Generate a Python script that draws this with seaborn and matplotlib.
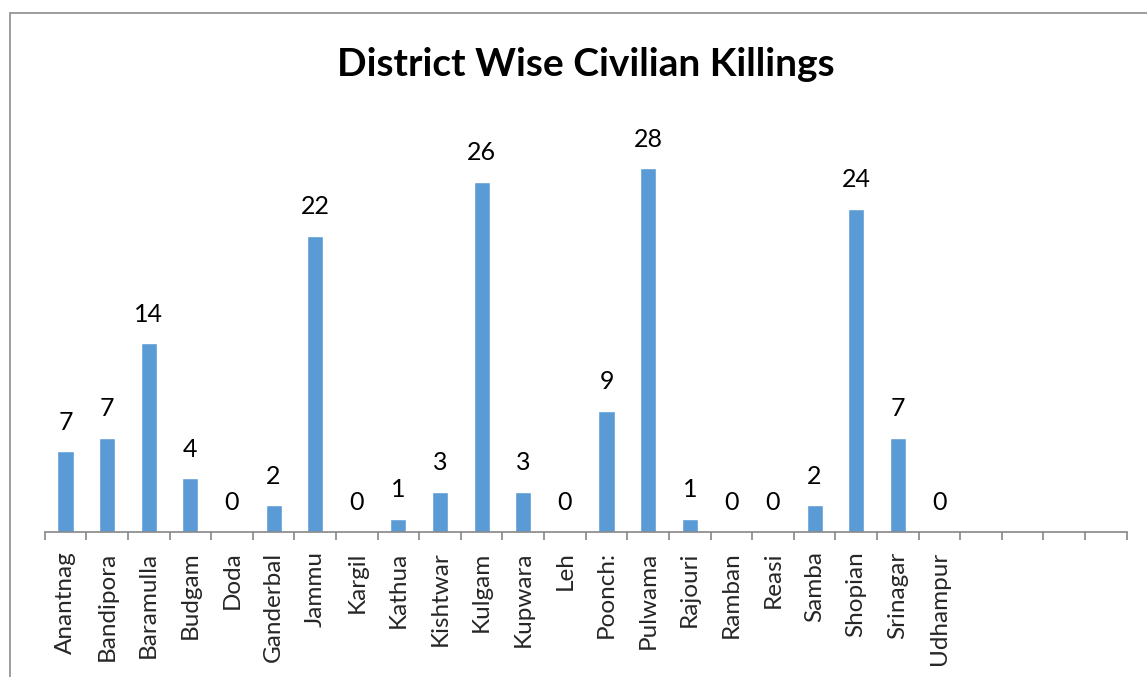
from matplotlib import pyplot as plt
from matplotlib.patches import Rectangle
import pandas as pd
import seaborn as sns

districts = ['Anantnag', 'Bandipora', 'Baramulla', 'Budgam', 'Doda', 'Ganderbal',
             'Jammu', 'Kargil', 'Kathua', 'Kishtwar', 'Kulgam', 'Kupwara', 'Leh',
             'Poonch:', 'Pulwama', 'Rajouri', 'Ramban', 'Reasi', 'Samba', 'Shopian',
             'Srinagar', 'Udhampur']
# bar heights as drawn in the picture
killings = [6, 7, 14, 4, 0, 2, 22, 0, 1, 3, 26, 3, 0, 9, 27, 1, 0, 0, 2, 24, 7, 0]
# data labels as printed above the bars
shown = [7, 7, 14, 4, 0, 2, 22, 0, 1, 3, 26, 3, 0, 9, 28, 1, 0, 0, 2, 24, 7, 0]
n_slots = 26

df = pd.DataFrame({'district': districts, 'killings': killings})

sns.set_style('white')
plt.rcParams['font.family'] = ['Lato', 'DejaVu Sans']

W, H = 1147, 677
fig = plt.figure(figsize=(W / 100, H / 100), dpi=100)
fig.patches.append(Rectangle((9.5 / W, -0.1), 1.2, (H - 12.5) / H + 0.1,
                             transform=fig.transFigure, fill=False,
                             edgecolor='#8c8c8c', linewidth=1.2))

ax = fig.add_axes([44.7 / W, (H - 532) / H, 1082 / W, 404 / H])
sns.barplot(data=df, x='district', y='killings', color='#5B9BD5', width=0.385,
            saturation=1, ax=ax)
ax.set_xlim(-0.5, n_slots - 0.5)
ax.set_ylim(0, 30)

for i, (h, s) in enumerate(zip(killings, shown)):
    ax.annotate(str(s), (i, h), xytext=(0, 29), textcoords='offset pixels',
                ha='center', va='center', fontsize=18, color='black')

for sp in ['top', 'right', 'left']:
    ax.spines[sp].set_visible(False)
ax.spines['bottom'].set_color('#868686')
ax.spines['bottom'].set_linewidth(1.2)
ax.set_yticks([])
ax.set_xticks(range(len(districts)))
ax.set_xticklabels(districts, rotation=90, fontsize=17.5)
ax.tick_params(axis='x', which='major', length=0, pad=14)
ax.set_xticks([x - 0.5 for x in range(n_slots + 1)], minor=True)
ax.tick_params(axis='x', which='minor', length=6, color='#868686', width=1.2,
               direction='out', bottom=True)
ax.set_xlabel('')
ax.set_ylabel('')

fig.text(585.5 / W, (H - 65) / H, 'District Wise Civilian Killings',
         ha='center', va='center', fontsize=28, fontweight='bold', color='black')

fig.savefig('out.png', dpi=100)
